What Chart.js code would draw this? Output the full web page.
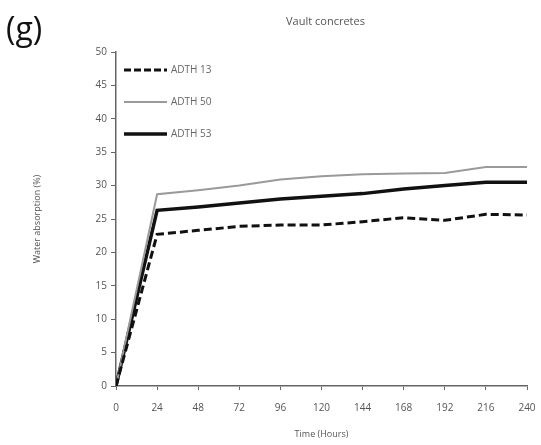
<!DOCTYPE html>
<html>
<head>
<meta charset="utf-8">
<script src="https://cdn.jsdelivr.net/npm/chart.js@4.4.0/dist/chart.umd.min.js"></script>
<style>
  html, body { margin: 0; padding: 0; background: #fff; }
  #wrap { width: 541px; height: 445px; }
</style>
</head>
<body>
<div id="wrap"><canvas id="c" width="541" height="445"></canvas></div>
<script>
// Water absorption of vault concretes over time
const hours  = [0, 24, 48, 72, 96, 120, 144, 168, 192, 216, 240];
const adth13 = [0, 22.7, 23.3, 23.9, 24.1, 24.1, 24.6, 25.2, 24.8, 25.7, 25.6];
const adth50 = [0, 28.7, 29.3, 30.0, 30.9, 31.4, 31.7, 31.8, 31.9, 32.8, 32.8];
const adth53 = [0, 26.3, 26.8, 27.4, 28.0, 28.4, 28.8, 29.5, 30.0, 30.5, 30.5];
const seriesNames = ['ADTH 13', 'ADTH 50', 'ADTH 53'];
const yTicks = [0, 5, 10, 15, 20, 25, 30, 35, 40, 45, 50];
const xTicks = hours;

const FONT = "'Open Sans', 'Liberation Sans', sans-serif";
const toPoints = arr => arr.map((v, i) => ({ x: hours[i], y: v }));

// Panel letter, chart heading and the inset key
const decorations = {
  id: 'decorations',
  afterDraw(chart) {
    const ctx = chart.ctx;
    const area = chart.chartArea;
    ctx.save();
    ctx.fillStyle = '#111';
    ctx.textBaseline = 'middle';
    ctx.textAlign = 'left';
    ctx.font = "32px " + FONT;
    ctx.fillText('(g)', 6, 31);

    ctx.fillStyle = '#555';
    ctx.textAlign = 'center';
    ctx.font = "11px " + FONT;
    ctx.fillText('Vault concretes', (area.left + area.right) / 2 + 4, 22);

    const rows = [70, 102, 134];
    chart.data.datasets.forEach((ds, i) => {
      const y = rows[i];
      ctx.beginPath();
      ctx.strokeStyle = ds.borderColor;
      ctx.lineWidth = ds.borderWidth;
      ctx.setLineDash(ds.borderDash ? [7, 3] : []);
      ctx.moveTo(124, y);
      ctx.lineTo(167, y);
      ctx.stroke();
      ctx.setLineDash([]);
      ctx.fillStyle = '#666';
      ctx.textAlign = 'left';
      ctx.font = "10px " + FONT;
      ctx.fillText(ds.label, 171, y);
    });
    ctx.restore();
  }
};

new Chart(document.getElementById('c'), {
  type: 'line',
  data: {
    datasets: [
      { label: seriesNames[0], data: toPoints(adth13), borderColor: '#111', borderWidth: 3, borderDash: [8, 4] },
      { label: seriesNames[1], data: toPoints(adth50), borderColor: '#9a9a9a', borderWidth: 2 },
      { label: seriesNames[2], data: toPoints(adth53), borderColor: '#111', borderWidth: 3.5 }
    ]
  },
  options: {
    responsive: false,
    animation: false,
    layout: { padding: { left: 32, right: 0, top: 52, bottom: 5 } },
    elements: { point: { radius: 0 }, line: { tension: 0 } },
    plugins: { legend: { display: false }, tooltip: { enabled: false } },
    scales: {
      x: {
        type: 'linear', min: 0, max: 240,
        afterBuildTicks: s => { s.ticks = xTicks.map(v => ({ value: v })); },
        afterFit: s => { s.height = 54; s.paddingRight = 14; s.paddingLeft = 0; },
        border: { color: '#666', width: 1.5 },
        grid: { drawOnChartArea: false, drawTicks: true, tickLength: 4, color: '#666' },
        ticks: { color: '#555', font: { family: FONT, size: 10 }, padding: 12, maxRotation: 0 },
        title: { display: true, text: 'Time (Hours)', color: '#555', font: { family: FONT, size: 9 }, padding: { top: 4, bottom: 0 } }
      },
      y: {
        min: 0, max: 50,
        afterBuildTicks: s => { s.ticks = yTicks.map(v => ({ value: v })); },
        afterFit: s => { s.width = 84; },
        border: { color: '#666', width: 1.5 },
        grid: { drawOnChartArea: false, drawTicks: true, tickLength: 5, color: '#666' },
        ticks: { color: '#555', font: { family: FONT, size: 10 }, padding: 4 },
        title: { display: true, text: 'Water absorption (%)', color: '#555', font: { family: FONT, size: 9 }, padding: { top: 0, bottom: 0 } }
      }
    }
  },
  plugins: [decorations]
});
</script>
</body>
</html>
